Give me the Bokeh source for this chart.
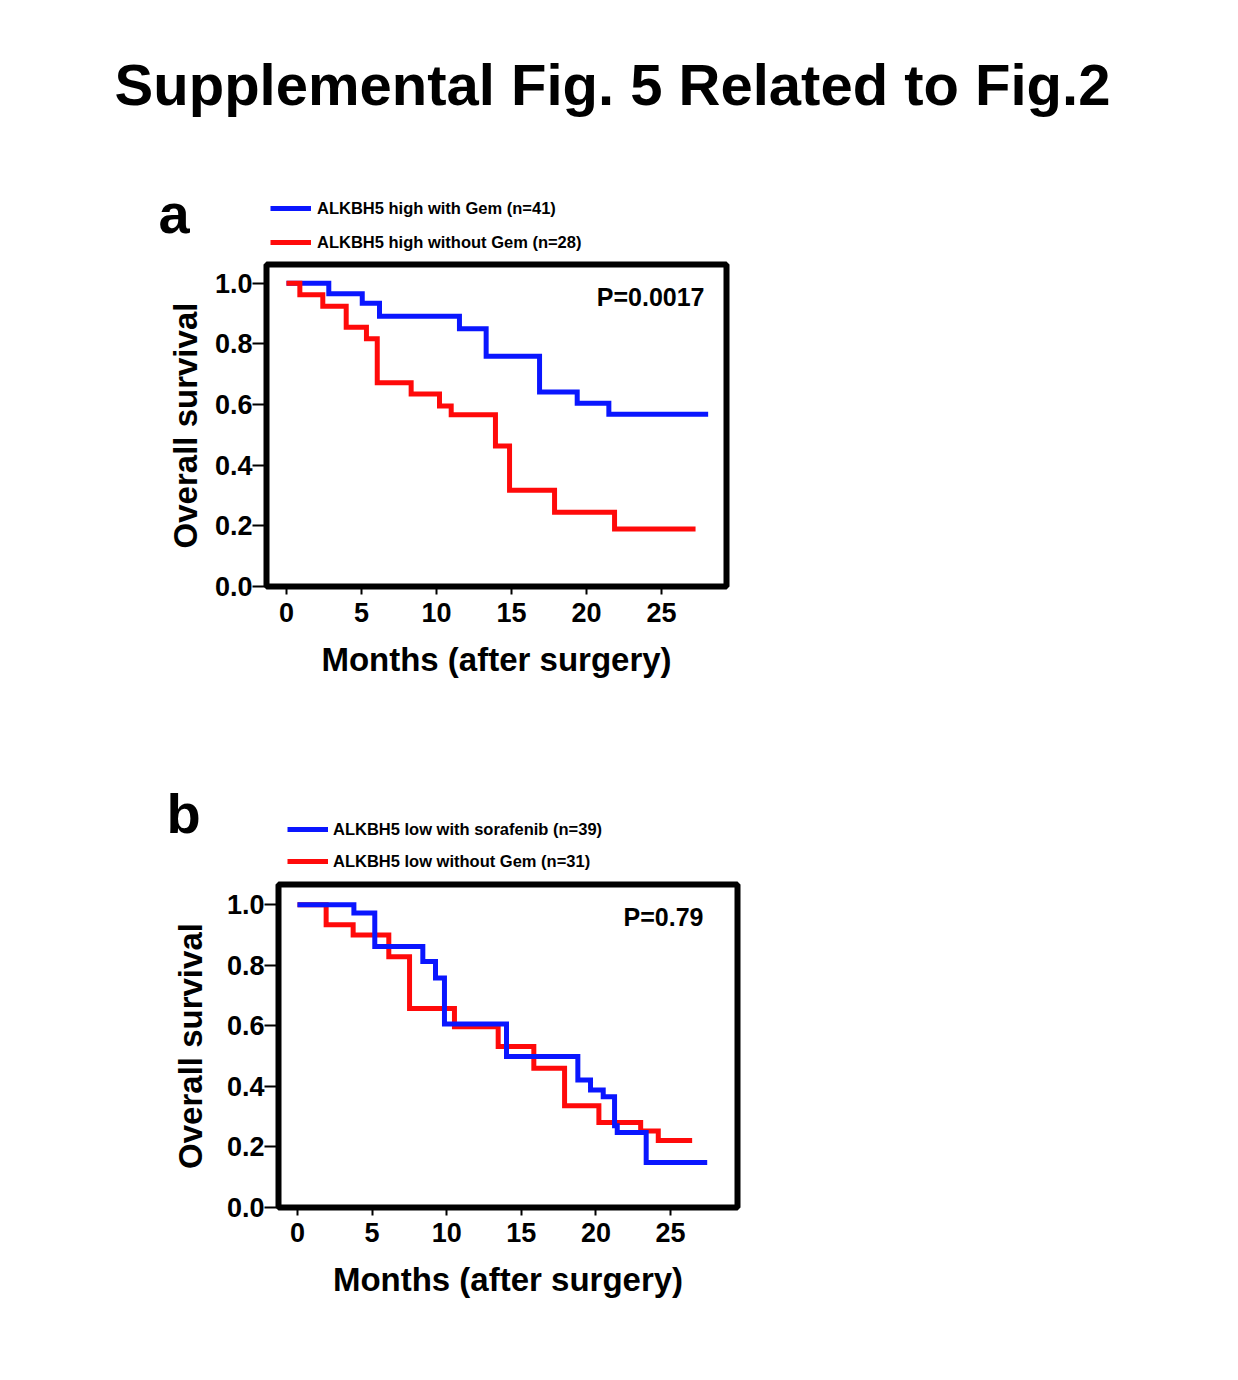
import numpy as np
from bokeh.plotting import figure
from bokeh.models import Label, Legend, LegendItem, Range1d, FixedTicker, PrintfTickFormatter
from bokeh.embed import file_html
from bokeh.resources import INLINE

# ---------------- data ----------------
title_text = "Supplemental Fig. 5 Related to Fig.2"
x_ticks = [0, 5, 10, 15, 20, 25]
y_ticks = [0.0, 0.2, 0.4, 0.6, 0.8, 1.0]
x_label = "Months (after surgery)"
y_label = "Overall survival"

# panel a
a_blue_label = "ALKBH5 high with Gem (n=41)"
a_blue_t = [0, 2.82, 5.05, 6.20, 11.53, 13.31, 16.87, 19.38, 21.49, 28.11]
a_blue_s = [1.0, 0.965, 0.934, 0.891, 0.850, 0.759, 0.641, 0.604, 0.568, 0.568]
a_red_label = "ALKBH5 high without Gem (n=28)"
a_red_t = [0, 0.89, 2.42, 3.98, 5.33, 6.05, 8.31, 10.20, 10.98, 13.93, 14.87, 17.87, 21.87, 27.27]
a_red_s = [1.0, 0.962, 0.924, 0.855, 0.817, 0.672, 0.635, 0.595, 0.566, 0.463, 0.317, 0.245, 0.190, 0.190]
a_p = "P=0.0017"

# panel b
b_blue_label = "ALKBH5 low with sorafenib (n=39)"
b_blue_t = [0, 3.78, 5.18, 8.40, 9.25, 9.85, 14.01, 18.79, 19.64, 20.49, 21.25, 21.43, 23.37, 27.46]
b_blue_s = [1.0, 0.973, 0.862, 0.813, 0.758, 0.606, 0.499, 0.421, 0.388, 0.366, 0.270, 0.248, 0.149, 0.149]
b_red_label = "ALKBH5 low without Gem (n=31)"
b_red_t = [0, 1.92, 3.73, 6.12, 7.51, 10.52, 13.45, 15.84, 17.90, 20.20, 23.00, 24.18, 26.45]
b_red_s = [1.0, 0.934, 0.900, 0.828, 0.657, 0.597, 0.532, 0.460, 0.336, 0.281, 0.253, 0.221, 0.221]
b_p = "P=0.79"

BLUE = "#0A16FF"
RED = "#FF0A0A"
FONT = "Liberation Sans"
W = 1222


def make_panel(height, left, top, fw, fh, xr, yr, ylab_standoff, xtick_standoff):
    p = figure(width=W, height=height,
               min_border_left=left, min_border_top=top,
               min_border_right=W - left - fw,
               min_border_bottom=height - top - fh,
               x_range=Range1d(*xr), y_range=Range1d(*yr),
               output_backend="svg", toolbar_location=None)
    p.grid.visible = False
    p.background_fill_color = "white"
    p.border_fill_color = "white"
    p.outline_line_color = "black"
    p.outline_line_width = 6
    p.outline_line_alpha = 1.0

    p.xaxis.ticker = FixedTicker(ticks=x_ticks)
    p.yaxis.ticker = FixedTicker(ticks=y_ticks)
    p.yaxis.formatter = PrintfTickFormatter(format="%.1f")
    for ax in (p.xaxis[0], p.yaxis[0]):
        ax.axis_line_color = None
        ax.major_tick_line_color = "black"
        ax.major_tick_line_width = 2
        ax.minor_tick_line_color = None
        ax.major_tick_in = 0
        ax.major_label_text_font = FONT
        ax.major_label_text_font_style = "bold"
        ax.major_label_text_color = "black"
        ax.axis_label_text_font = FONT
        ax.axis_label_text_font_style = "bold"
        ax.axis_label_text_color = "black"
        ax.axis_label_text_font_size = "33px"
    p.xaxis.major_label_text_font_size = "27px"
    p.yaxis.major_label_text_font_size = "27px"
    p.xaxis.major_tick_out = 8
    p.xaxis.major_label_standoff = xtick_standoff
    p.xaxis.axis_label = x_label
    p.xaxis.axis_label_standoff = 16
    p.yaxis.major_tick_out = 14
    p.yaxis.major_label_standoff = 0
    p.yaxis.axis_label = y_label
    p.yaxis.axis_label_standoff = ylab_standoff
    return p


def make_header(height):
    h = figure(width=W, height=height, x_range=Range1d(0, W), y_range=Range1d(height, 0),
               min_border=0, x_axis_location=None, y_axis_location=None,
               output_backend="svg", toolbar_location=None)
    h.grid.visible = False
    h.outline_line_color = None
    h.background_fill_color = "white"
    h.border_fill_color = "white"
    return h


def add_text(p, x, y, text, size, align="left", units="data"):
    p.add_layout(Label(x=x, y=y, x_units=units, y_units=units, text=text,
                       text_font=FONT, text_font_style="bold", text_font_size=size,
                       text_color="black", text_align=align, text_baseline="alphabetic"))


def make_legend(h, labels, colors, loc, spacing, standoff):
    items = []
    for lab, col in zip(labels, colors):
        r = h.line(x=np.array([np.nan, np.nan]), y=np.array([np.nan, np.nan]),
                   line_color=col, line_width=5)
        items.append(LegendItem(label=lab, renderers=[r]))
    leg = Legend(items=items, location=loc, orientation="vertical", padding=0, margin=0,
                 spacing=spacing, glyph_width=41, glyph_height=20, label_height=20,
                 label_standoff=standoff, label_text_font=FONT, label_text_font_style="bold",
                 label_text_font_size="16.5px", label_text_color="black",
                 border_line_color=None, background_fill_alpha=0)
    h.add_layout(leg)


# ---------------- header a ----------------
ha = make_header(254)
add_text(ha, 612, 84, title_text, "58px", align="center")
add_text(ha, 158, 213, "a", "56px")
make_legend(ha, [a_blue_label, a_red_label], [BLUE, RED], (270, 2), 14, 6)

# ---------------- panel a ----------------
pa = make_panel(466, 266, 10, 460, 322, (-1.333, 29.333), (0.0, 1.0617), 8, 8)
pa.step(a_blue_t, a_blue_s, mode="after", line_width=5, line_color=BLUE, line_join="miter")
pa.step(a_red_t, a_red_s, mode="after", line_width=5, line_color=RED, line_join="miter")
add_text(pa, 438, 290, a_p, "25px", align="right", units="screen")

# ---------------- header b ----------------
hb = make_header(154)
add_text(hb, 166, 93, "b", "56px")
make_legend(hb, [b_blue_label, b_red_label], [BLUE, RED], (287, 3), 12, 5)

# ---------------- panel b ----------------
pb = make_panel(456, 278, 10, 459, 323, (-1.273, 29.49), (0.0, 1.067), 15, 7)
pb.step(b_red_t, b_red_s, mode="after", line_width=5, line_color=RED, line_join="miter")
pb.step(b_blue_t, b_blue_s, mode="after", line_width=5, line_color=BLUE, line_join="miter")
add_text(pb, 425, 291, b_p, "25px", align="right", units="screen")

open("out.html", "w").write(file_html([ha, pa, hb, pb], INLINE))
